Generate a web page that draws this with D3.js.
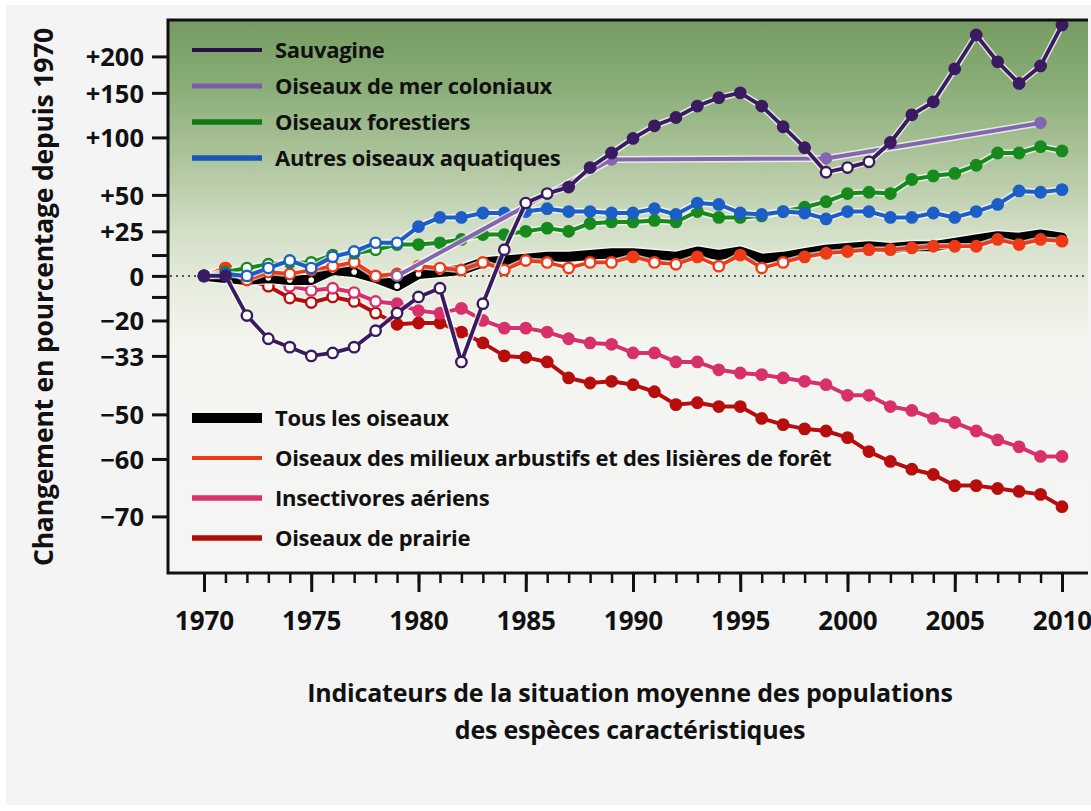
<!DOCTYPE html>
<html><head><meta charset="utf-8">
<script src="https://cdn.jsdelivr.net/npm/d3@7"></script>
<style>
html,body{margin:0;padding:0;background:#ffffff;}
svg{display:block;}
text{font-family:"Open Sans",sans-serif;fill:#111;}
</style></head>
<body>
<svg id="chart" width="1091" height="811"></svg>
<script>
// ---------- DATA ----------
const years = [1970,1971,1972,1973,1974,1975,1976,1977,1978,1979,
               1980,1981,1982,1983,1984,1985,1986,1987,1988,1989,
               1990,1991,1992,1993,1994,1995,1996,1997,1998,1999,
               2000,2001,2002,2003,2004,2005,2006,2007,2008,2009,2010];

const sauvagine = [0,0,-18,-27,-30,-33,-32,-30,-24,-17,
                   -10,-6,-35,-13,14,44,51,56,72,85,
                   99,112,121,134,144,150,134,111,90,68,
                   72,77,95,124,139,182,234,192,162,186,251];
const sauvagineHollow = [1972,1973,1974,1975,1976,1977,1978,1979,1980,1981,1982,1983,1984,1985,1986,1999,2000,2001];

const merYears = [1979,1989,1999,2009];
const merColoniaux = [0,79,80,115];
const merHollow = [1979];

const forestiers = [0,2,4,6,7,7,11,12,14,17,
                    17,18,20,23,23,25,27,25,30,31,
                    31,32,31,38,34,34,35,38,41,45,
                    51,52,51,62,65,67,74,85,85,91,87];
const forestiersHollow = [1971,1972,1973,1974,1975,1976,1977,1978,1979];

const aquatiques = [0,1,0,4,8,4,10,13,18,18,
                    28,34,34,37,37,38,40,38,38,37,
                    37,40,36,44,43,37,36,38,37,33,
                    38,38,34,34,37,34,38,43,53,52,54];
const aquatiquesHollow = [1971,1972,1973,1974,1975,1976,1977,1978,1979];

const tous = [0,-1,-2,-1,-2,-2,3,2,-1,-5,
              1,2,3,7,8,9,10,10,11,12,
              12,11,10,13,11,13,9,10,12,14,
              15,16,15,16,16,18,20,22,21,23,21];
const tousHollow = [1971,1972,1973,1974,1975,1976,1977,1978,1979,1980,1981,1982];

const arbustifs = [0,4,-2,2,1,3,5,7,0,1,
                   5,4,3,7,3,8,7,4,7,7,
                   10,7,6,10,5,11,4,7,10,12,
                   13,14,14,15,16,16,16,20,17,20,19];
const arbustifsHollow = [1972,1973,1974,1975,1976,1977,1978,1979,1980,1981,1982,1983,1984,1985,1986,1987,1988,1989,1991,1992,1994,1996,1997];

const insectivores = [0,1,1,-1,-5,-7,-6,-8,-12,-13,
                      -16,-17,-15,-20,-23,-23,-24.5,-27,-28.5,-29,
                      -32,-32,-35,-35,-37.5,-38.5,-39,-40,-41,-42,
                      -45,-45,-48,-49,-51,-52,-54,-56,-57.5,-59.5,-59.5];
const insectivoresHollow = [1971,1972,1973,1974,1975,1976,1977,1978];

const prairie = [0,4,-2,-5,-10.5,-12.5,-10,-12,-17,-21.5,
                 -21,-21,-24.5,-28.5,-33,-33.5,-35,-40,-41.5,-41,
                 -42,-44,-47.5,-47,-48,-48,-51,-52.5,-53.5,-54,
                 -55.5,-58.5,-60.5,-62,-63,-65,-65,-65.5,-66,-66.5,-68.5];
const prairieHollow = [1972,1973,1974,1975,1976,1977,1978];

const yTickValues = [200,150,100,50,25,0,-20,-33,-50,-60,-70];
const yTickLabels = ["+200","+150","+100","+50","+25","0","\u221220","\u221233","\u221250","\u221260","\u221270"];
const yMinorTicks = [11,-10];
const xMajorTicks = [1970,1975,1980,1985,1990,1995,2000,2005,2010];

const legendTop = ["Sauvagine","Oiseaux de mer coloniaux","Oiseaux forestiers","Autres oiseaux aquatiques"];
const legendBottom = ["Tous les oiseaux","Oiseaux des milieux arbustifs et des lisières de forêt","Insectivores aériens","Oiseaux de prairie"];

const yTitle = "Changement en pourcentage depuis 1970";
const xTitle1 = "Indicateurs de la situation moyenne des populations";
const xTitle2 = "des espèces caractéristiques";

// ---------- LAYOUT ----------
const svg = d3.select("#chart");
const L = 168, T = 20, R = 1088, B = 573;

svg.append("rect").attr("x",6).attr("y",5).attr("width",1085).attr("height",800).attr("fill","#f4f4f4");

const defs = svg.append("defs");
const grad = defs.append("linearGradient").attr("id","bg").attr("x1",0).attr("y1",0).attr("x2",0).attr("y2",1);
[[0,"#769b62"],[0.12,"#8aad77"],[0.25,"#adc49c"],[0.38,"#d2dec6"],[0.48,"#e6ecdd"],[0.56,"#f1f3ea"],[0.6,"#f4f5f1"],[1,"#f5f5f4"]]
  .forEach(s=>grad.append("stop").attr("offset",s[0]).attr("stop-color",s[1]));
svg.append("rect").attr("x",L).attr("y",T).attr("width",R-L).attr("height",B-T).attr("fill","url(#bg)");

const x = d3.scaleLinear().domain([1970,2010]).range([204,1062]);
const y = d3.scaleLog().domain([0.226,3.6]).range([B,T]);
const yp = p => y(1 + p/100);

// zero dotted line
svg.append("line").attr("x1",L+2).attr("x2",R).attr("y1",yp(0)).attr("y2",yp(0))
  .attr("stroke","#555").attr("stroke-width",2).attr("stroke-dasharray","2,4");

// ---------- SERIES ----------
const series = [
  {name:"prairie", xs:years, v:prairie, hollow:prairieHollow, color:"#b80d0d", w:4, r:5.2},
  {name:"insect", xs:years, v:insectivores, hollow:insectivoresHollow, color:"#d8306b", w:4, r:5.2},
  {name:"tous", xs:years, v:tous, hollow:tousHollow, color:"#000000", w:10, r:2.8, thick:true},
  {name:"arbustifs", xs:years, v:arbustifs, hollow:arbustifsHollow, color:"#ee3a16", w:3.6, r:5.2},
  {name:"forest", xs:years, v:forestiers, hollow:forestiersHollow, color:"#168a1c", w:4, r:5.2},
  {name:"aqua", xs:years, v:aquatiques, hollow:aquatiquesHollow, color:"#1c5ec6", w:4, r:5.2},
  {name:"mer", xs:merYears, v:merColoniaux, hollow:merHollow, color:"#8466b0", w:4, r:5},
  {name:"sauv", xs:years, v:sauvagine, hollow:sauvagineHollow, color:"#3a1a60", w:3.8, r:5.2}
];

const line = d3.line().x(d=>x(d.x)).y(d=>yp(d.v)).curve(d3.curveLinear);

series.forEach(s=>{
  const pts = s.xs.map((yr,i)=>({x:yr, v:s.v[i], hollow:s.hollow.includes(yr)}));
  const g = svg.append("g");
  g.append("path").datum(pts).attr("d",line).attr("fill","none")
    .attr("stroke","#ffffff").attr("stroke-opacity",0.7).attr("stroke-width",s.w+3).attr("stroke-linejoin","round");
  g.append("path").datum(pts).attr("d",line).attr("fill","none")
    .attr("stroke",s.color).attr("stroke-width",s.w).attr("stroke-linejoin","round").attr("stroke-linecap","round");
  if (s.thick) {
    g.selectAll("circle").data(pts.filter(p=>p.hollow)).join("circle")
      .attr("cx",d=>x(d.x)).attr("cy",d=>yp(d.v)).attr("r",s.r).attr("fill","#ffffff");
  } else {
    g.selectAll("circle").data(pts).join("circle")
      .attr("cx",d=>x(d.x)).attr("cy",d=>yp(d.v)).attr("r",s.r)
      .attr("fill",d=>d.hollow?"#ffffff":s.color)
      .attr("stroke",s.color).attr("stroke-width",2.4);
  }
});

// ---------- FRAME ----------
svg.append("path").attr("d",`M${R},${T}H${L}V${B}H${R}`).attr("fill","none").attr("stroke","#111").attr("stroke-width",3);

// ---------- Y AXIS ----------
const yAxis = d3.axisLeft(y).tickValues(yTickValues.map(p=>1+p/100))
  .tickFormat((d,i)=>yTickLabels[i]).tickSize(16).tickPadding(8);
const gy = svg.append("g").attr("transform",`translate(${L},0)`).call(yAxis);
gy.select(".domain").remove();
gy.selectAll(".tick line").attr("stroke","#111").attr("stroke-width",3);
gy.selectAll(".tick text").style("font-family","'Open Sans',sans-serif").style("font-size","25.5px").style("font-weight","700").style("letter-spacing","0px").attr("fill","#111").attr("dy","0.36em");
const gyMinor = svg.append("g").attr("transform",`translate(${L},0)`)
  .call(d3.axisLeft(y).tickValues(yMinorTicks.map(p=>1+p/100)).tickFormat("").tickSize(16));
gyMinor.select(".domain").remove();
gyMinor.selectAll(".tick line").attr("stroke","#111").attr("stroke-width",3);

// ---------- X AXIS ----------
const gxMinor = svg.append("g").attr("transform",`translate(0,${B})`)
  .call(d3.axisBottom(x).tickValues(years).tickFormat("").tickSize(10));
gxMinor.select(".domain").remove();
gxMinor.selectAll(".tick line").attr("stroke","#111").attr("stroke-width",2.5);
const gx = svg.append("g").attr("transform",`translate(0,${B})`)
  .call(d3.axisBottom(x).tickValues(xMajorTicks).tickFormat(d3.format("d")).tickSize(19).tickPadding(20));
gx.select(".domain").remove();
gx.selectAll(".tick line").attr("stroke","#111").attr("stroke-width",3);
gx.selectAll(".tick text").style("font-family","'Open Sans',sans-serif").style("font-size","26px").style("font-weight","700").style("letter-spacing","0px").attr("fill","#111");

// ---------- TITLES ----------
svg.append("text").attr("transform","translate(53,297) rotate(-90)").attr("text-anchor","middle")
  .style("font-size","26.5px").style("font-weight","700").style("letter-spacing","-0.2px").text(yTitle);
svg.append("text").attr("x",630).attr("y",702).attr("text-anchor","middle")
  .style("font-size","25px").style("font-weight","700").style("letter-spacing","-0.2px").text(xTitle1);
svg.append("text").attr("x",630).attr("y",739).attr("text-anchor","middle")
  .style("font-size","25px").style("font-weight","700").style("letter-spacing","-0.2px").text(xTitle2);

// ---------- LEGENDS ----------
const topColors = ["#2c1048","#7a5ea8","#0f7a14","#1a55b8"];
const topWidths = [4,5,5.5,5.5];
const topRows = d3.scalePoint().domain(legendTop).range([50,158]);
legendTop.forEach((name,i)=>{
  const yy = topRows(name);
  svg.append("line").attr("x1",192).attr("x2",262).attr("y1",yy).attr("y2",yy).attr("stroke",topColors[i]).attr("stroke-width",topWidths[i]);
  svg.append("text").attr("x",275).attr("y",yy).attr("dy","0.35em").style("font-size","22px").style("font-weight","700").style("letter-spacing","-0.3px").text(name);
});
const botColors = ["#000000","#ee3a16","#d8306b","#b00a0a"];
const botWidths = [10,4,5.5,5.5];
const botRows = d3.scalePoint().domain(legendBottom).range([418,538]);
legendBottom.forEach((name,i)=>{
  const yy = botRows(name);
  svg.append("line").attr("x1",192).attr("x2",262).attr("y1",yy).attr("y2",yy).attr("stroke",botColors[i]).attr("stroke-width",botWidths[i]);
  svg.append("text").attr("x",275).attr("y",yy).attr("dy","0.35em").style("font-size","22px").style("font-weight","700").style("letter-spacing","-0.3px").text(name);
});
</script>
</body></html>
